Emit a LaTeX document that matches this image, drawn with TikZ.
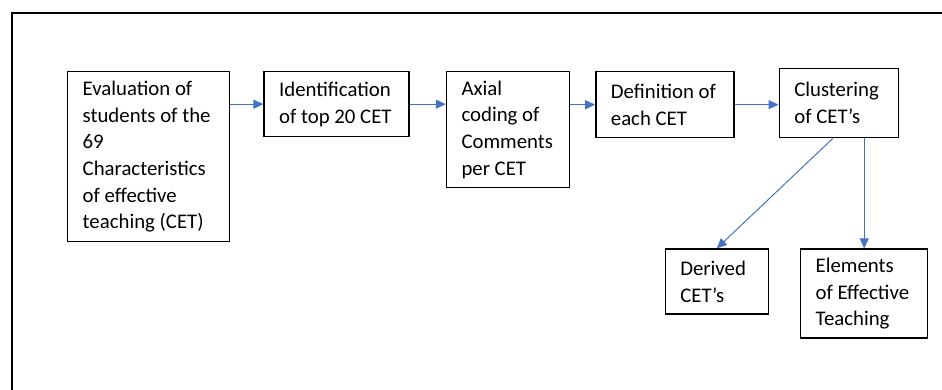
\documentclass[tikz,border=0pt]{standalone}
\usepackage{fontspec}
\setmainfont{Carlito}
\usetikzlibrary{positioning,arrows.meta}
\definecolor{flowblue}{RGB}{68,114,196}
\begin{document}
\begin{tikzpicture}[
            x=1pt,y=-1pt,
            box/.style={rectangle,draw,line width=1.4pt,align=flush left,anchor=north west,inner xsep=15pt,inner ysep=5pt,font=\fontsize{20.8}{26.7}\selectfont},
            flow/.style={-{Triangle[length=10pt,width=9pt]},line width=1pt,flowblue},
            frame/.style={line width=2.3pt}
        ]
            \useasboundingbox[fill=white] (0,0) rectangle (942,390);
            \draw[frame] (942,13) -- (12,13) -- (12,390);

            \node[box,text width=132pt,minimum height=170pt] (evaluation) at (67,71) {Evaluation of\\students of the\\69\\Characteristics\\of effective\\teaching (CET)};
            \node[box,text width=115pt,minimum height=65pt,right=33pt of evaluation.north east,anchor=north west] (identification) {Identification\\of top 20 CET};
            \node[box,text width=93pt,minimum height=116pt,right=36pt of identification.north east,anchor=north west] (axial) {Axial\\coding of\\Comments\\per CET};
            \node[box,text width=108pt,minimum height=66pt,right=25pt of axial.north east,anchor=north west] (definition) {Definition of\\each CET};
            \node[box,text width=89pt,minimum height=69pt,right=44pt of definition.north east,anchor=north west,yshift=3pt] (clustering) {Clustering\\of CET’s};
            \node[box,text width=73pt,minimum height=65pt,below=110pt of clustering.south west,anchor=north west,xshift=-114pt] (derived) {Derived\\CET’s};
            \node[box,text width=97pt,minimum height=89pt,right=31pt of derived.north east,anchor=north west] (elements) {Elements\\of Effective\\Teaching};

            \draw[flow] (evaluation.east |- identification.west) -- (identification.west);
            \draw[flow] (identification.east) -- (identification.east -| axial.west);
            \draw[flow] (axial.east |- definition.west) -- (definition.west);
            \draw[flow] (definition.east) -- (definition.east -| clustering.west);
            \draw[flow] ([xshift=-6pt]clustering.south) -- (derived.north);
            \draw[flow] (clustering.south -| elements.north) -- (elements.north);
        \end{tikzpicture}
\end{document}
